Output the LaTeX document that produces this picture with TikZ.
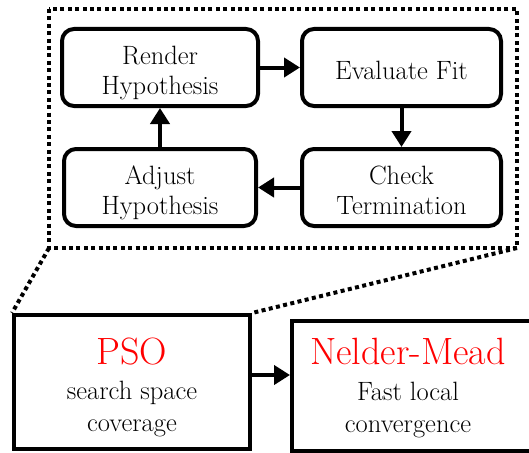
\documentclass[tikz,border=0pt]{standalone}
\usetikzlibrary{arrows.meta}
\definecolor{Method_red}{RGB}{255, 0, 0}

\begin{document}
\begin{tikzpicture}[x=1pt, y=-1pt,
    stepbox/.style={draw, line width=4pt, rounded corners=12pt, minimum height=77pt,
        align=center, font=\fontsize{26.5}{30}\selectfont, text height=53pt, text depth=0pt},
    methodbox/.style={draw, line width=4pt, inner sep=0pt},
    methodtext/.style={align=center, anchor=base, font=\fontsize{26.5}{32}\selectfont},
    methodname/.style={font=\fontsize{38}{40}\selectfont, text=Method_red},
    flowarrow/.style={line width=4pt, -{Triangle[length=16pt, width=19pt]}},
    zoomline/.style={line width=4pt, dash pattern=on 4pt off 3.4pt}]
    \useasboundingbox (0,0) rectangle (529,452);

    %% Search loop
    \node[stepbox, minimum width=196pt] (render) at (160,67.5) {Render\\Hypothesis};
    \node[stepbox, minimum width=199pt, text height=23pt] (evaluate)
        at (401.5,67.5) {Evaluate Fit};
    \node[stepbox, minimum width=199pt] (check) at (401.5,187.5) {Check\\Termination};
    \node[stepbox, minimum width=192pt] (adjust) at (160,187.5) {Adjust\\Hypothesis};

    \draw[flowarrow] (render) -- (evaluate);
    \draw[flowarrow] (evaluate) -- (check);
    \draw[flowarrow] (check) -- (adjust);
    \draw[flowarrow] (adjust) -- (render);

    % dotted frame
    \coordinate (zoomtl) at (49,9);
    \coordinate (zoombr) at (517,248);
    \draw[zoomline] (zoomtl) rectangle (zoombr);

    %% Optimizers
    \node[methodbox, minimum width=236pt, minimum height=134pt] (pso) at (132,382) {};
    \node[methodname] (psoname) at (132,364) [anchor=base] {PSO};
    \node[methodtext] (psotext) at (132,431) {search space\\coverage};
    \node[methodbox, minimum width=262pt, minimum height=130pt, anchor=north west]
        (nelder) at (290,319) {};
    \node[methodname] (neldername) at (408,364) [anchor=base] {Nelder-Mead};
    \node[methodtext] (neldertext) at (408,432) {Fast local\\convergence};

    \draw[flowarrow] (pso.east |- 0,375) -- (nelder.west |- 0,375);

    % zoom lines
    \draw[zoomline] (zoomtl |- zoombr) -- (pso.north west);
    \draw[zoomline] (zoombr) -- (pso.north east);
\end{tikzpicture}
\end{document}
